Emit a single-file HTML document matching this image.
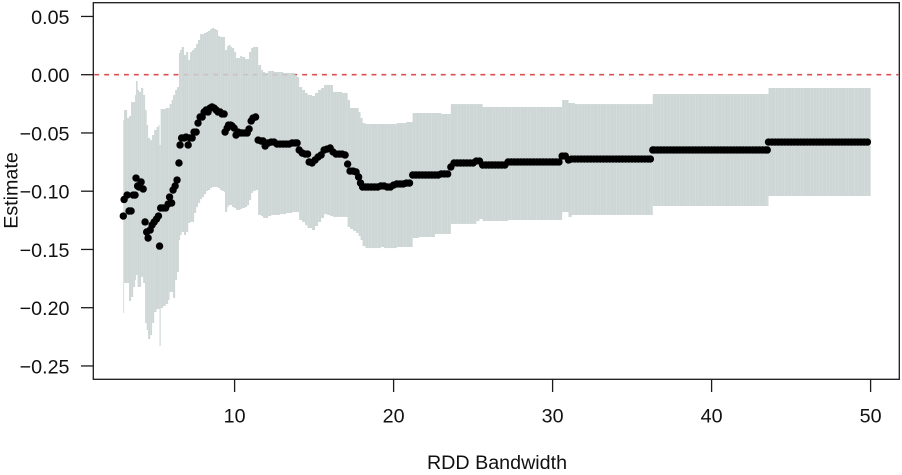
<!DOCTYPE html>
<html lang="en">
<head>
<meta charset="utf-8">
<title>RDD Bandwidth Sensitivity</title>
<style>
  html, body { margin: 0; padding: 0; background: #fff; }
  svg { display: block; }
  text { font-family: "Liberation Sans", Arial, sans-serif; font-size: 19.7px; fill: #111; }
</style>
</head>
<body>
<svg id="chart" xmlns="http://www.w3.org/2000/svg" width="902" height="475" viewBox="0 0 902 475"></svg>
<script>
const xTickValues = [10, 20, 30, 40, 50];
const xTickLabels = ["10", "20", "30", "40", "50"];
const yTickValues = [0.05, 0, -0.05, -0.10, -0.15, -0.20, -0.25];
const yTickLabels = ["0.05", "0.00", "\u22120.05", "\u22120.10", "\u22120.15", "\u22120.20", "\u22120.25"];
const xAxisTitle = "RDD Bandwidth";
const yAxisTitle = "Estimate";
const referenceValue = 0;

const bandwidth = [
3.00,3.05,3.24,3.36,3.49,3.62,3.74,3.80,3.90,3.99,
4.12,4.25,4.37,4.47,4.56,4.69,4.81,4.94,5.09,5.21,
5.28,5.35,5.50,5.66,5.82,5.91,6.04,6.13,6.26,6.38,
6.50,6.57,6.67,6.82,6.95,7.08,7.20,7.33,7.45,7.58,
7.70,7.83,7.96,8.08,8.21,8.33,8.46,8.58,8.71,8.84,
8.96,9.09,9.21,9.34,9.40,9.53,9.62,9.75,9.84,9.97,
10.09,10.22,10.35,10.47,10.66,10.79,10.91,11.04,11.16,11.32,
11.48,11.67,11.79,11.92,12.11,12.30,12.48,12.67,12.86,13.05,
13.24,13.43,13.62,13.81,13.93,14.06,14.25,14.43,14.59,14.69,
14.87,15.06,15.25,15.44,15.63,15.82,16.01,16.19,16.38,16.57,
16.76,16.95,17.11,17.26,17.45,17.64,17.80,17.92,18.05,18.24,
18.40,
18.6,18.8,19,19.2,19.4,19.6,19.8,20,20.2,20.4,20.6,20.8,21,
21.2,21.4,21.6,21.8,22,22.2,22.4,22.6,22.8,23,23.2,23.4,
23.6,
23.8,24,24.2,24.4,24.6,24.8,25,
25.2,25.4,
25.6,
25.8,26,26.2,26.4,26.6,26.8,27,
27.2,27.4,27.6,27.8,28,28.2,28.4,28.6,28.8,29,29.2,29.4,29.6,29.8,30,30.2,30.4,
30.6,30.8,
31,
31.2,
31.4,31.6,31.8,32,32.2,32.4,32.6,32.8,33,33.2,33.4,33.6,33.8,34,34.2,34.4,34.6,34.8,35,35.2,35.4,35.6,35.8,36,36.15,
36.3,36.4,36.6,36.8,37,37.2,37.4,37.6,37.8,38,38.2,38.4,38.6,38.8,39,39.2,39.4,39.6,39.8,40,40.2,40.4,40.6,40.8,41,41.2,41.4,41.6,41.8,42,42.2,42.4,42.6,42.8,43,43.2,43.4,43.5,
43.58,43.8,44,44.2,44.4,44.6,44.8,45,45.2,45.4,45.6,45.8,46,46.2,46.4,46.6,46.8,47,47.2,47.4,47.6,47.8,48,48.2,48.4,48.6,48.8,49,49.2,49.4,49.6,49.8
];

const estimate = [
-.1213,-.1071,-.1033,-.1170,-.1170,-.1033,-.1033,-.0887,-.0955,-.0964,
-.0921,-.0981,-.1264,-.1350,-.1402,-.1333,-.1290,-.1264,-.1239,-.1213,
-.1471,-.1144,-.1144,-.1144,-.1110,-.1050,-.1101,-.0990,-.0955,-.0904,
-.0758,-.0603,-.0543,-.0543,-.0535,-.0603,-.0543,-.0543,-.0492,-.0492,
-.0415,-.0363,-.0363,-.0320,-.0303,-.0320,-.0286,-.0277,-.0286,-.0303,
-.0320,-.0320,-.0337,-.0337,-.0492,-.0458,-.0432,-.0432,-.0440,-.0458,
-.0518,-.0492,-.0500,-.0500,-.0500,-.0500,-.0466,-.0397,-.0372,-.0363,
-.0561,-.0569,-.0569,-.0612,-.0586,-.0578,-.0578,-.0595,-.0595,-.0595,
-.0595,-.0595,-.0586,-.0586,-.0586,-.0646,-.0672,-.0681,-.0681,-.0749,
-.0758,-.0732,-.0706,-.0689,-.0646,-.0638,-.0629,-.0663,-.0681,-.0681,
-.0681,-.0689,-.0767,-.0827,-.0827,-.0835,-.0878,-.0930,-.0964,-.0964,
-.0964,
-.0964,-.0964,-.0964,-.0955,-.0955,-.0964,-.0964,-.0947,-.0938,-.0938,-.0938,-.0930,-.0930,
-.0861,-.0861,-.0861,-.0861,-.0861,-.0861,-.0861,-.0861,-.0861,-.0852,-.0852,-.0852,
-.0792,
-.0758,-.0758,-.0758,-.0758,-.0758,-.0758,-.0758,
-.0741,-.0741,
-.0775,
-.0775,-.0775,-.0775,-.0775,-.0775,-.0775,-.0775,
-.0749,-.0749,-.0749,-.0749,-.0749,-.0749,-.0749,-.0749,-.0749,-.0749,-.0749,-.0749,-.0749,-.0749,-.0749,-.0749,-.0749,
-.0698,-.0698,
-.0732,
-.0724,
-.0724,-.0724,-.0724,-.0724,-.0724,-.0724,-.0724,-.0724,-.0724,-.0724,-.0724,-.0724,-.0724,-.0724,-.0724,-.0724,-.0724,-.0724,-.0724,-.0724,-.0724,-.0724,-.0724,-.0724,-.0724,
-.0646,-.0646,-.0646,-.0646,-.0646,-.0646,-.0646,-.0646,-.0646,-.0646,-.0646,-.0646,-.0646,-.0646,-.0646,-.0646,-.0646,-.0646,-.0646,-.0646,-.0646,-.0646,-.0646,-.0646,-.0646,-.0646,-.0646,-.0646,-.0646,-.0646,-.0646,-.0646,-.0646,-.0646,-.0646,-.0646,-.0646,-.0646,
-.0578,-.0578,-.0578,-.0578,-.0578,-.0578,-.0578,-.0578,-.0578,-.0578,-.0578,-.0578,-.0578,-.0578,-.0578,-.0578,-.0578,-.0578,-.0578,-.0578,-.0578,-.0578,-.0578,-.0578,-.0578,-.0578,-.0578,-.0578,-.0578,-.0578,-.0578,-.0578
];

const ciUpper = [
-.0389,-.0303,-.0372,-.0355,-.0234,-.0234,-.0174,-.0054,-.0131,-.0148,
-.0114,-.0174,-.0303,-.0432,-.0543,-.0561,-.0518,-.0475,-.0449,-.0432,
-.0603,-.0294,-.0294,-.0286,-.0286,-.0252,-.0217,-.0174,-.0131,-.0106,
.0186,.0212,.0238,.0169,.0195,.0126,.0195,.0212,.0229,.0264,
.0298,.0349,.0349,.0358,.0367,.0375,.0392,.0401,.0392,.0384,
.0332,.0324,.0324,.0324,.0212,.0246,.0255,.0238,.0229,.0195,
.0143,.0143,.0161,.0152,.0135,.0135,.0195,.0229,.0238,.0238,
.0083,.0040,.0023,.0015,.0032,.0032,.0023,.0023,.0023,.0015,
.0015,.0015,.0015,-.0003,-.0020,-.0106,-.0131,-.0157,-.0174,-.0174,
-.0183,-.0157,-.0131,-.0114,-.0088,-.0088,-.0088,-.0148,-.0148,-.0148,
-.0157,-.0157,-.0217,-.0286,-.0286,-.0286,-.0320,-.0372,-.0415,-.0423,
-.0423,
-.0423,-.0423,-.0423,-.0423,-.0423,-.0423,-.0423,-.0423,-.0415,-.0415,-.0415,-.0406,-.0406,
-.0329,-.0329,-.0329,-.0329,-.0329,-.0329,-.0329,-.0329,-.0329,-.0337,-.0337,-.0337,
-.0252,
-.0252,-.0252,-.0252,-.0252,-.0252,-.0252,-.0252,
-.0252,-.0252,
-.0277,
-.0277,-.0277,-.0277,-.0277,-.0277,-.0277,-.0277,
-.0277,-.0277,-.0277,-.0277,-.0277,-.0277,-.0277,-.0277,-.0277,-.0277,-.0277,-.0277,-.0277,-.0277,-.0277,-.0277,-.0277,
-.0217,-.0217,
-.0243,
-.0243,
-.0252,-.0252,-.0252,-.0252,-.0252,-.0252,-.0252,-.0252,-.0252,-.0252,-.0252,-.0252,-.0252,-.0252,-.0252,-.0252,-.0252,-.0252,-.0252,-.0252,-.0252,-.0252,-.0252,-.0252,-.0252,
-.0166,-.0166,-.0166,-.0166,-.0166,-.0166,-.0166,-.0166,-.0166,-.0166,-.0166,-.0166,-.0166,-.0166,-.0166,-.0166,-.0166,-.0166,-.0166,-.0166,-.0166,-.0166,-.0166,-.0166,-.0166,-.0166,-.0166,-.0166,-.0166,-.0166,-.0166,-.0166,-.0166,-.0166,-.0166,-.0166,-.0166,-.0166,
-.0114,-.0114,-.0114,-.0114,-.0114,-.0114,-.0114,-.0114,-.0114,-.0114,-.0114,-.0114,-.0114,-.0114,-.0114,-.0114,-.0114,-.0114,-.0114,-.0114,-.0114,-.0114,-.0114,-.0114,-.0114,-.0114,-.0114,-.0114,-.0114,-.0114,-.0114,-.0114
];

const ciLower = [
-.2046,-.1788,-.1788,-.1942,-.1908,-.1822,-.1762,-.1719,-.1822,-.1822,
-.1736,-.1788,-.2131,-.2191,-.2269,-.2235,-.2131,-.2037,-.2011,-.2011,
-.2329,-.2003,-.1985,-.1968,-.1934,-.1865,-.1865,-.1917,-.1762,-.1694,
-.1419,-.1376,-.1350,-.1376,-.1350,-.1273,-.1264,-.1264,-.1187,-.1136,
-.1101,-.1067,-.1050,-.1024,-.0998,-.0990,-.0973,-.0964,-.0964,-.0964,
-.0973,-.0990,-.0998,-.1007,-.1179,-.1136,-.1119,-.1119,-.1136,-.1144,
-.1161,-.1161,-.1153,-.1144,-.1136,-.1119,-.1076,-.1015,-.0998,-.0990,
-.1204,-.1213,-.1230,-.1230,-.1213,-.1204,-.1204,-.1204,-.1196,-.1196,
-.1187,-.1187,-.1179,-.1179,-.1179,-.1247,-.1264,-.1291,-.1316,-.1316,
-.1333,-.1299,-.1264,-.1230,-.1196,-.1204,-.1213,-.1221,-.1221,-.1221,
-.1221,-.1221,-.1307,-.1324,-.1341,-.1358,-.1385,-.1419,-.1471,-.1488,
-.1488,
-.1488,-.1488,-.1488,-.1479,-.1488,-.1488,-.1488,-.1488,-.1479,-.1479,-.1479,-.1479,-.1479,
-.1402,-.1402,-.1393,-.1393,-.1393,-.1393,-.1393,-.1367,-.1367,-.1367,-.1367,-.1367,
-.1281,
-.1281,-.1281,-.1281,-.1281,-.1281,-.1281,-.1281,
-.1256,-.1239,
-.1256,
-.1256,-.1256,-.1256,-.1256,-.1256,-.1256,-.1256,
-.1247,-.1247,-.1247,-.1247,-.1247,-.1247,-.1247,-.1247,-.1247,-.1247,-.1247,-.1247,-.1247,-.1247,-.1247,-.1247,-.1247,
-.1179,-.1179,
-.1221,
-.1204,
-.1204,-.1204,-.1204,-.1204,-.1204,-.1204,-.1204,-.1204,-.1204,-.1204,-.1204,-.1204,-.1204,-.1204,-.1204,-.1204,-.1204,-.1204,-.1204,-.1204,-.1204,-.1204,-.1204,-.1204,-.1204,
-.1127,-.1127,-.1127,-.1127,-.1127,-.1127,-.1127,-.1127,-.1127,-.1127,-.1127,-.1127,-.1127,-.1127,-.1127,-.1127,-.1127,-.1127,-.1127,-.1127,-.1127,-.1127,-.1127,-.1127,-.1127,-.1127,-.1127,-.1127,-.1127,-.1127,-.1127,-.1127,-.1127,-.1127,-.1127,-.1127,-.1127,-.1127,
-.1041,-.1041,-.1041,-.1041,-.1041,-.1041,-.1041,-.1041,-.1041,-.1041,-.1041,-.1041,-.1041,-.1041,-.1041,-.1041,-.1041,-.1041,-.1041,-.1041,-.1041,-.1041,-.1041,-.1041,-.1041,-.1041,-.1041,-.1041,-.1041,-.1041,-.1041,-.1041
];

const svgNS = "http://www.w3.org/2000/svg";
const svg = document.getElementById("chart");
const plotLeft = 93.3, plotRight = 899.3, plotTop = 2.7, plotBottom = 379.3;
function xScale(v) { return 234.6 + (v - 10) * 15.9; }
function yScale(v) { return 74.7 - v * 1165; }
function make(tag, attrs, parent) {
  const el = document.createElementNS(svgNS, tag);
  for (const k in attrs) el.setAttribute(k, attrs[k]);
  (parent || svg).appendChild(el);
  return el;
}

/* reference line sits under the translucent band */
const refLine = make("line", { x1: plotLeft + 1, x2: plotRight - 1, y1: yScale(referenceValue), y2: yScale(referenceValue), stroke: "#dc4f4f", "stroke-width": 1.6, "stroke-dasharray": "4.9 5" });



const bandGroup = make("g", { fill: "#c9d3d1", "fill-opacity": 0.9 });


for (let i = 0; i < bandwidth.length; i++) {
  const left = xScale(bandwidth[i]);
  const next = i + 1 < bandwidth.length ? xScale(bandwidth[i + 1]) : left + 3.18;
  const bar = make("rect", { x: left, width: next - left, y: yScale(ciUpper[i]), height: yScale(ciLower[i]) - yScale(ciUpper[i]) }, bandGroup);
  
  
}

const pointGroup = make("g", { fill: "#000" });


for (let i = 0; i < bandwidth.length; i++) {
  const dot = make("circle", { cx: xScale(bandwidth[i]), cy: yScale(estimate[i]), r: 3.7 }, pointGroup);
  
  
}

const box = make("rect", { x: plotLeft, y: plotTop, width: plotRight - plotLeft, height: plotBottom - plotTop, fill: "none", stroke: "#1a1a1a", "stroke-width": 1.3 });



const xAxis = make("g", {});


xTickValues.forEach(function (v, i) {
  const tick = make("line", { x1: xScale(v), x2: xScale(v), y1: plotBottom, y2: 392, stroke: "#1a1a1a", "stroke-width": 1.3 }, xAxis);
  
  
  const label = make("text", { x: xScale(v), y: 422.6, "text-anchor": "middle" }, xAxis);
  label.textContent = xTickLabels[i];
  
  
});

const yAxis = make("g", {});


yTickValues.forEach(function (v, i) {
  const tick = make("line", { x1: 81, x2: plotLeft, y1: yScale(v), y2: yScale(v), stroke: "#1a1a1a", "stroke-width": 1.3 }, yAxis);
  
  
  const label = make("text", { x: 69.5, y: yScale(v) + 7.4, "text-anchor": "end" }, yAxis);
  label.textContent = yTickLabels[i];
  
  
});

const xTitle = make("text", { x: 497, y: 469, "text-anchor": "middle" });
xTitle.textContent = xAxisTitle;



const yTitle = make("text", { transform: "translate(17.5,190.5) rotate(-90)", "text-anchor": "middle" });
yTitle.textContent = yAxisTitle;


</script>
</body>
</html>
